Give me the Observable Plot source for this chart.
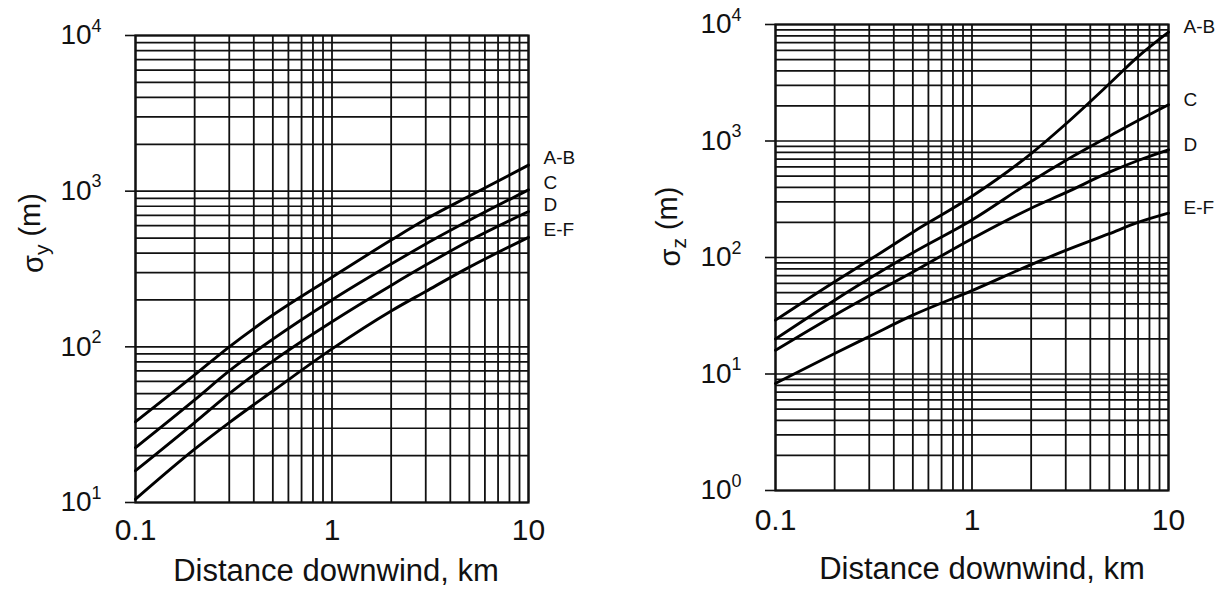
<!DOCTYPE html>
<html><head><meta charset="utf-8">
<script src="https://cdn.jsdelivr.net/npm/d3@7"></script>
<script src="https://cdn.jsdelivr.net/npm/@observablehq/plot@0.6"></script>
<style>
html,body{margin:0;padding:0;background:#fff;}
#wrap{display:flex;width:1227px;height:602px;overflow:hidden;}
svg{font-family:"Liberation Sans",Arial,Helvetica,sans-serif;}
</style></head><body><div id="wrap"></div>
<script>
// ---- data ----
const stabilities = ["A-B", "C", "D", "E-F"];

// sigma_y (left panel)
const xSigmaY = [0.1, 0.2, 0.3, 0.5, 1, 2, 3, 5, 10];
const sigmaY_AB = [33, 66, 100, 160, 280, 485, 660, 930, 1470];
const sigmaY_C  = [22.5, 45.6, 70, 112, 200, 340, 458, 650, 1020];
const sigmaY_D  = [16, 32.6, 50, 81, 145, 248, 335, 480, 740];
const sigmaY_EF = [10.5, 22, 32.6, 52, 97, 170, 227, 325, 505];

// sigma_z (right panel)
const xSigmaZ = [0.1, 0.2, 0.3, 0.5, 1, 2, 3, 5, 7, 10];
const sigmaZ_AB = [29, 62, 95, 165, 335, 780, 1400, 3100, 5300, 8600];
const sigmaZ_C  = [20, 43, 66, 110, 210, 450, 680, 1100, 1500, 2050];
const sigmaZ_D  = [16, 32, 47, 75, 145, 265, 360, 540, 680, 840];
const sigmaZ_EF = [8.3, 15, 21, 32, 52, 87, 115, 160, 200, 240];

// tick labels
const xTickLabels = [0.1, 1, 10];
const yTicksLeft = [10, 100, 1000, 10000];
const yTicksRight = [1, 10, 100, 1000, 10000];
const xTitle = "Distance downwind, km";
const yTitleLeft = "σy (m)";
const yTitleRight = "σz (m)";

// ---- build tables ----
function rowsFor(xs, seriesList) {
  const rows = [];
  seriesList.forEach((vals, i) => vals.forEach((v, j) => rows.push({x: xs[j], v, s: stabilities[i]})));
  return rows;
}
const rowsY = rowsFor(xSigmaY, [sigmaY_AB, sigmaY_C, sigmaY_D, sigmaY_EF]);
const rowsZ = rowsFor(xSigmaZ, [sigmaZ_AB, sigmaZ_C, sigmaZ_D, sigmaZ_EF]);

function logGrid(lo, hi) {
  const g = [];
  for (let e = Math.round(Math.log10(lo)); e < Math.round(Math.log10(hi)); e++)
    for (let k = 1; k < 10; k++) g.push(k * Math.pow(10, e));
  g.push(hi);
  return g;
}

function panel(o) {
  const xGrid = logGrid(0.1, 10);
  const yGrid = logGrid(o.yDomain[0], o.yDomain[1]);
  const last = stabilities.map(s => o.rows.filter(r => r.s === s).at(-1));
  const svg = Plot.plot({
    width: o.width, height: 602,
    marginLeft: o.mL, marginRight: o.mR, marginTop: o.mT, marginBottom: o.mB,
    style: {background: "white", color: "#111", fontFamily: "'Liberation Sans', Arial, Helvetica, sans-serif", overflow: "visible"},
    x: {type: "log", domain: [0.1, 10], axis: null},
    y: {type: "log", domain: o.yDomain, axis: null},
    marks: [
      Plot.ruleX(xGrid, {stroke: "#111", strokeWidth: 1.8}),
      Plot.ruleY(yGrid, {stroke: "#111", strokeWidth: 1.7}),
      Plot.frame({stroke: "#111", strokeWidth: 2.2}),
      Plot.axisY({ticks: o.yTicks, tickSize: 10, tickPadding: 24,
        tickFormat: d => "10^" + Math.round(Math.log10(d)), fontSize: 28, label: null, strokeWidth: 1.6}),
      Plot.axisX({ticks: xTickLabels, tickSize: 0, tickPadding: o.xPad,
        tickFormat: d => String(d), fontSize: 30, label: null}),
      Plot.line(o.rows, {x: "x", y: "v", z: "s", stroke: "#000", strokeWidth: 2.9, curve: "monotone-x"}),
      Plot.text(last, {x: "x", y: "v", text: "s", dx: 15, dy: o.labelDy, textAnchor: "start", fontSize: 19, fill: "#111"}),
      Plot.text([xTitle], {text: d => d, frameAnchor: "bottom", dx: o.tdx, dy: o.tdy, fontSize: 31, fill: "#111"}),
      Plot.text([o.yTitle], {text: d => d, frameAnchor: "left", rotate: -90, dx: o.ydx, dy: o.ydy, fontSize: 29, fill: "#111"})
    ]
  });
  // superscripts / subscripts as real text
  svg.querySelectorAll("text").forEach(t => {
    const s = t.textContent;
    if (/^10\^\d$/.test(s)) {
      const exp = s.split("^")[1];
      t.textContent = "10";
      const ts = document.createElementNS("http://www.w3.org/2000/svg", "tspan");
      ts.setAttribute("dy", "-0.72em");
      ts.setAttribute("font-size", "0.64em");
      ts.textContent = exp;
      t.appendChild(ts);
    } else if (s === o.yTitle) {
      t.textContent = "";
      const parts = [["σ", null, null], [s.charAt(1), "0.3em", "0.72em"], [" (m)", "-0.3em", null]];
      parts.forEach(([txt, dy, fs]) => {
        const ts = document.createElementNS("http://www.w3.org/2000/svg", "tspan");
        if (dy) ts.setAttribute("dy", dy);
        if (fs) ts.setAttribute("font-size", fs);
        ts.textContent = txt;
        t.appendChild(ts);
      });
    }
  });
  return svg;
}

const wrap = document.getElementById("wrap");
wrap.appendChild(panel({rows: rowsY, yDomain: [10, 10000], yTicks: yTicksLeft, width: 615,
  mL: 135, mR: 87, mT: 35, mB: 100, xPad: 16, labelDy: -7, tdx: 4, tdy: 78, yTitle: yTitleLeft, ydx: -102, ydy: 4}));
wrap.appendChild(panel({rows: rowsZ, yDomain: [1, 10000], yTicks: yTicksRight, width: 612,
  mL: 160, mR: 59, mT: 24, mB: 112, xPad: 18, labelDy: -5, tdx: 10, tdy: 88, yTitle: yTitleRight, ydx: -105, ydy: 9}));
</script></body></html>
